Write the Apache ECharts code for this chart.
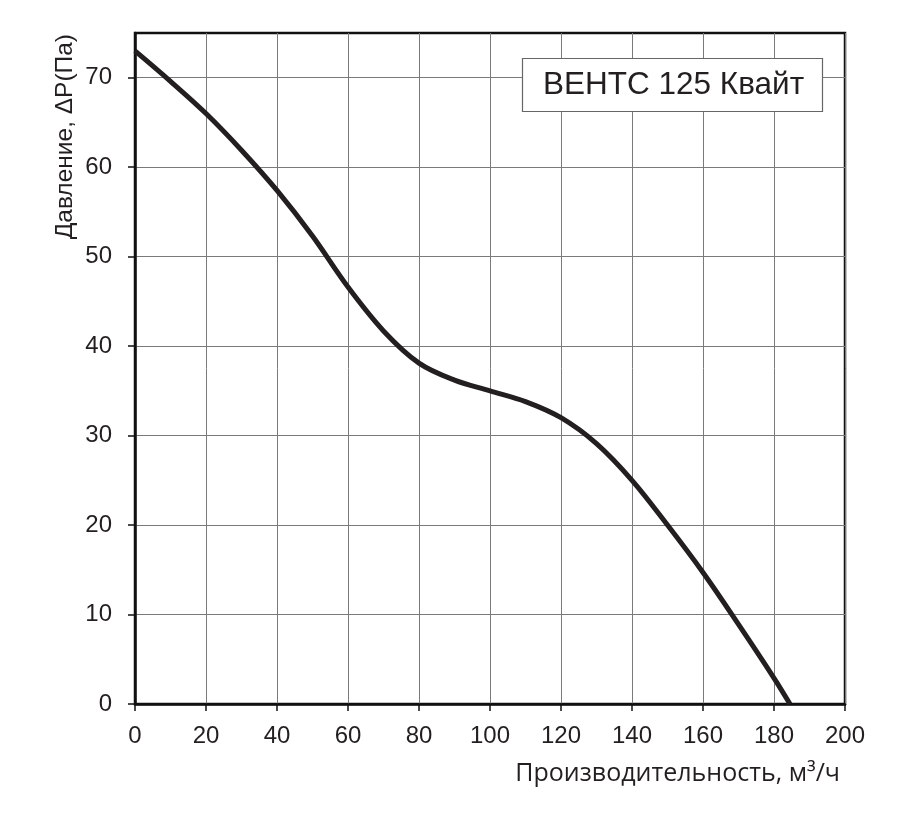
<!DOCTYPE html>
<html>
<head>
<meta charset="utf-8">
<script src="https://cdn.jsdelivr.net/npm/echarts@6/dist/echarts.min.js"></script>
<style>html,body{margin:0;padding:0;background:#fff}#c{width:900px;height:818px}</style>
</head>
<body>
<div id="c"></div>
<script>
var flow = [0, 10, 20, 30, 40, 50, 60, 70, 80, 90, 100, 110, 120, 130, 140, 150, 160, 170, 180, 184.5];
var pressure = [73, 69.6, 66.0, 61.9, 57.4, 52.3, 46.6, 41.7, 38.1, 36.2, 35.0, 33.8, 32.0, 29.1, 25.0, 20.0, 14.7, 8.9, 2.9, 0];
var xTicks = [0, 20, 40, 60, 80, 100, 120, 140, 160, 180, 200];
var yTicks = [0, 10, 20, 30, 40, 50, 60, 70];
var titleText = 'ВЕНТС 125 Квайт';
var xName = 'Производительность, м³/ч';
var yName = 'Давление, ΔP(Па)';

var data = flow.map(function (f, i) { return [f, pressure[i]]; });
var chart = echarts.init(document.getElementById('c'));
var txt = '#231f20';
chart.setOption({
  animation: false,
  backgroundColor: '#fff',
  grid: { left: 135, right: 55, top: 33, bottom: 114, show: true, borderColor: '#111', borderWidth: 2.5, backgroundColor: 'transparent' },
  title: {
    text: titleText, left: 522, top: 58,
    padding: [9, 19, 9, 21],
    borderColor: '#666', borderWidth: 1.2, backgroundColor: '#fff',
    textStyle: { fontFamily: 'Liberation Sans', fontSize: 31.5, fontWeight: 'normal', color: txt, lineHeight: 36 }
  },
  xAxis: {
    type: 'value', min: 0, max: 200, interval: 20,
    axisLine: { show: true, lineStyle: { color: '#111', width: 2.5 } },
    axisTick: { show: true, length: 7, lineStyle: { color: '#111', width: 1.5 } },
    axisLabel: { margin: 20, fontFamily: 'Liberation Sans', fontSize: 24, color: txt,
      customValues: xTicks },
    splitLine: { show: true, lineStyle: { color: '#7a7a7a', width: 1 } }
  },
  yAxis: {
    type: 'value', min: 0, max: 75, interval: 5,
    axisLine: { show: true, lineStyle: { color: '#111', width: 2.5 } },
    axisTick: { show: true, length: 7, lineStyle: { color: '#111', width: 1.5 }, customValues: yTicks },
    axisLabel: { margin: 23, fontFamily: 'Liberation Sans', fontSize: 24, color: txt, customValues: yTicks },
    splitLine: { show: true, lineStyle: { color: '#7a7a7a', width: 1 } }
  },
  graphic: [
    { type: 'text', x: 840, y: 774, style: { text: xName, align: 'right', verticalAlign: 'middle',
        font: '25px "Open Sans"', fill: txt } },
    { type: 'text', x: 65, y: 34, rotation: Math.PI / 2, style: { text: yName, align: 'right', verticalAlign: 'middle',
        font: '24.5px "Liberation Sans"', fill: txt } }
  ],
  series: [{
    type: 'line', data: data, smooth: 0.35, symbol: 'none',
    lineStyle: { color: '#231f20', width: 5 }
  }]
});
</script>
</body>
</html>
